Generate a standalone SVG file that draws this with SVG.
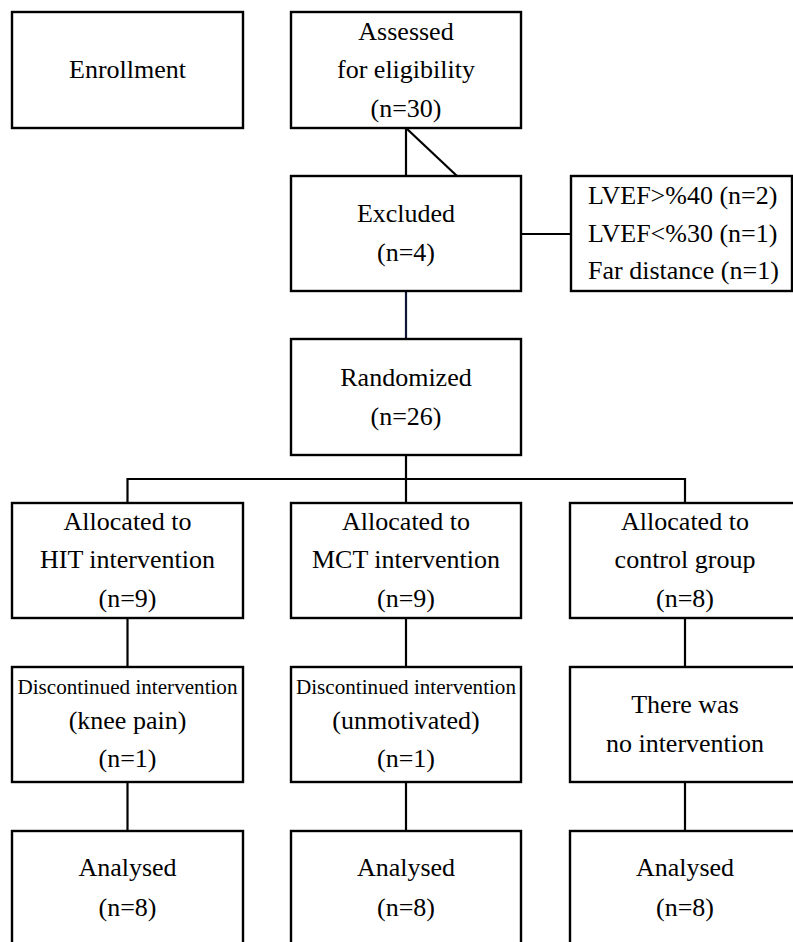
<svg xmlns="http://www.w3.org/2000/svg" width="793" height="942" viewBox="0 0 793 942">
<style>
.box{fill:#fff;stroke:#000;stroke-width:2.4}
.ln{fill:none;stroke:#000;stroke-width:2.2}
text{font-family:"Liberation Serif","Times New Roman",serif;font-size:26px;fill:#000;text-anchor:middle}
.sm{font-size:20px}
.lf{text-anchor:start}
</style>
<rect width="793" height="942" fill="#fff"/>
<g id="connectors">
<line class="ln" x1="406" y1="128" x2="406" y2="176"/>
<line class="ln" x1="406" y1="128" x2="457" y2="176"/>
<line class="ln" x1="521" y1="234" x2="571" y2="234"/>
<line class="ln" x1="406" y1="291" x2="406" y2="339" style="stroke:#101535"/>
<line class="ln" x1="406" y1="455" x2="406" y2="479"/>
<polyline class="ln" points="127.5,503 127.5,479 685,479 685,503"/>
<line class="ln" x1="406" y1="479" x2="406" y2="503"/>
<line class="ln" x1="127.5" y1="618" x2="127.5" y2="667"/>
<line class="ln" x1="406" y1="618" x2="406" y2="667"/>
<line class="ln" x1="685" y1="618" x2="685" y2="667"/>
<line class="ln" x1="127.5" y1="782" x2="127.5" y2="831"/>
<line class="ln" x1="406" y1="782" x2="406" y2="831"/>
<line class="ln" x1="685" y1="782" x2="685" y2="831"/>
</g>
<g id="enrollment">
<rect class="box" x="12" y="12" width="231" height="116"/>
<text x="127.5" y="78">Enrollment</text>
</g>
<g id="assessed">
<rect class="box" x="291" y="12" width="230" height="116"/>
<text x="406" y="40">Assessed</text>
<text x="406" y="78">for eligibility</text>
<text x="406" y="117">(n=30)</text>
</g>
<g id="excluded">
<rect class="box" x="291" y="176" width="230" height="115"/>
<text x="406" y="222">Excluded</text>
<text x="406" y="261">(n=4)</text>
</g>
<g id="reasons">
<rect class="box" x="571" y="176" width="221" height="115"/>
<text class="lf" x="588" y="204">LVEF&gt;%40 (n=2)</text>
<text class="lf" x="588" y="242">LVEF&lt;%30 (n=1)</text>
<text class="lf" x="588" y="279">Far distance (n=1)</text>
</g>
<g id="randomized">
<rect class="box" x="291" y="339" width="230" height="116"/>
<text x="406" y="386">Randomized</text>
<text x="406" y="425">(n=26)</text>
</g>
<g id="alloc-hit">
<rect class="box" x="12" y="503" width="231" height="115"/>
<text x="127.5" y="530">Allocated to</text>
<text x="127.5" y="568">HIT intervention</text>
<text x="127.5" y="607">(n=9)</text>
</g>
<g id="alloc-mct">
<rect class="box" x="291" y="503" width="230" height="115"/>
<text x="406" y="530">Allocated to</text>
<text x="406" y="568">MCT intervention</text>
<text x="406" y="607">(n=9)</text>
</g>
<g id="alloc-control">
<rect class="box" x="570" y="503" width="231" height="115"/>
<text x="685" y="530">Allocated to</text>
<text x="685" y="568">control group</text>
<text x="685" y="607">(n=8)</text>
</g>
<g id="disc-hit">
<rect class="box" x="12" y="667" width="231" height="115"/>
<text class="sm" x="127.5" y="694" textLength="220" lengthAdjust="spacingAndGlyphs">Discontinued intervention</text>
<text x="127.5" y="729">(knee pain)</text>
<text x="127.5" y="767">(n=1)</text>
</g>
<g id="disc-mct">
<rect class="box" x="291" y="667" width="230" height="115"/>
<text class="sm" x="406" y="694" textLength="220" lengthAdjust="spacingAndGlyphs">Discontinued intervention</text>
<text x="406" y="729">(unmotivated)</text>
<text x="406" y="767">(n=1)</text>
</g>
<g id="no-intervention">
<rect class="box" x="570" y="667" width="231" height="115"/>
<text x="685" y="713">There was</text>
<text x="685" y="752">no intervention</text>
</g>
<g id="analysed-hit">
<rect class="box" x="12" y="831" width="231" height="120"/>
<text x="127.5" y="876">Analysed</text>
<text x="127.5" y="916">(n=8)</text>
</g>
<g id="analysed-mct">
<rect class="box" x="291" y="831" width="230" height="120"/>
<text x="406" y="876">Analysed</text>
<text x="406" y="916">(n=8)</text>
</g>
<g id="analysed-control">
<rect class="box" x="570" y="831" width="231" height="120"/>
<text x="685" y="876">Analysed</text>
<text x="685" y="916">(n=8)</text>
</g>
</svg>
